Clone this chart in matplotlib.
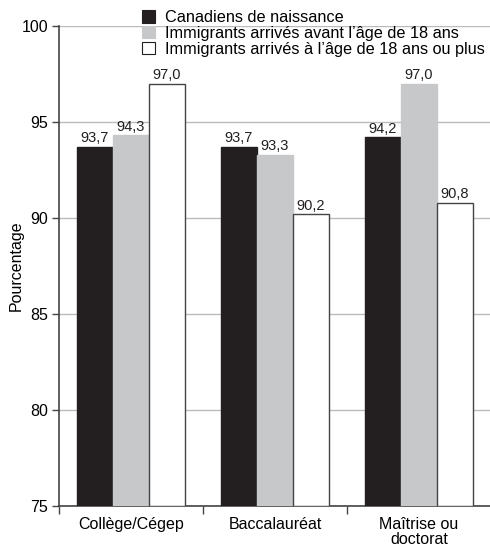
import matplotlib
matplotlib.use("Agg")
import matplotlib.pyplot as plt
import numpy as np
from matplotlib.patches import Patch

categories = ["Collège/Cégep", "Baccalauréat", "Maîtrise ou\ndoctorat"]
series_names = ["Canadiens de naissance",
                "Immigrants arrivés avant l’âge de 18 ans",
                "Immigrants arrivés à l’âge de 18 ans ou plus"]
canadiens = [93.7, 93.7, 94.2]
avant18 = [94.3, 93.3, 97.0]
apres18 = [97.0, 90.2, 90.8]
yticks = [75, 80, 85, 90, 95, 100]

plt.rcParams['font.family'] = ['Liberation Sans', 'DejaVu Sans']

fig = plt.figure(figsize=(4.9, 5.48), dpi=100)
ax = fig.add_axes([59/490, 1-506/548, 432/490, (506-26)/548])

colors = ["#231f20", "#c7c8ca", "#ffffff"]
edges = ["#231f20", "#c7c8ca", "#444444"]
data = [canadiens, avant18, apres18]
w = 0.25
x = np.arange(len(categories)) + 0.5
for i, (vals, c, e) in enumerate(zip(data, colors, edges)):
    pos = x + (i - 1) * w
    ax.bar(pos, np.array(vals) - 75, bottom=75, width=w, color=c,
           edgecolor=e, linewidth=1.0, zorder=3)
    for p, v in zip(pos, vals):
        ax.text(p, v + 0.08, f"{v:.1f}".replace(".", ","), ha="center",
                va="bottom", fontsize=10.5, color="#231f20", zorder=4)

ax.set_xlim(0, 3)
ax.set_ylim(75, 100)
ax.set_yticks(yticks)
ax.set_yticklabels([str(t) for t in yticks], fontsize=11.5)
ax.yaxis.grid(True, color="#bbbbbb", linewidth=1.0, zorder=0)
ax.set_axisbelow(True)
ax.set_xticks(x)
ax.set_xticklabels(categories, fontsize=11.5, linespacing=0.95)
ax.tick_params(axis='x', which='major', length=0, pad=8)
ax.set_xticks([0, 1, 2], minor=True)
ax.tick_params(axis='x', which='minor', length=6, width=1.0, color="#444444")
ax.tick_params(axis='y', length=5, width=1.0, color="#444444", pad=3)
for s in ["top", "right"]:
    ax.spines[s].set_visible(False)
for s in ["left", "bottom"]:
    ax.spines[s].set_color("#444444")
    ax.spines[s].set_linewidth(1.2)
ax.set_ylabel("Pourcentage", fontsize=11.5)
ax.yaxis.set_label_coords(-35/432, 0.5)

handles = [Patch(facecolor=c, edgecolor=("#231f20" if i != 1 else c), linewidth=0.8)
           for i, c in enumerate(colors)]
fig.legend(handles, series_names, loc="upper left",
           bbox_to_anchor=(142/490, 1-10/548), frameon=False, fontsize=11.7,
           handlelength=0.8, handleheight=0.8, handletextpad=0.6,
           labelspacing=0.05, borderpad=0, borderaxespad=0)

fig.savefig("out.png", dpi=100)
